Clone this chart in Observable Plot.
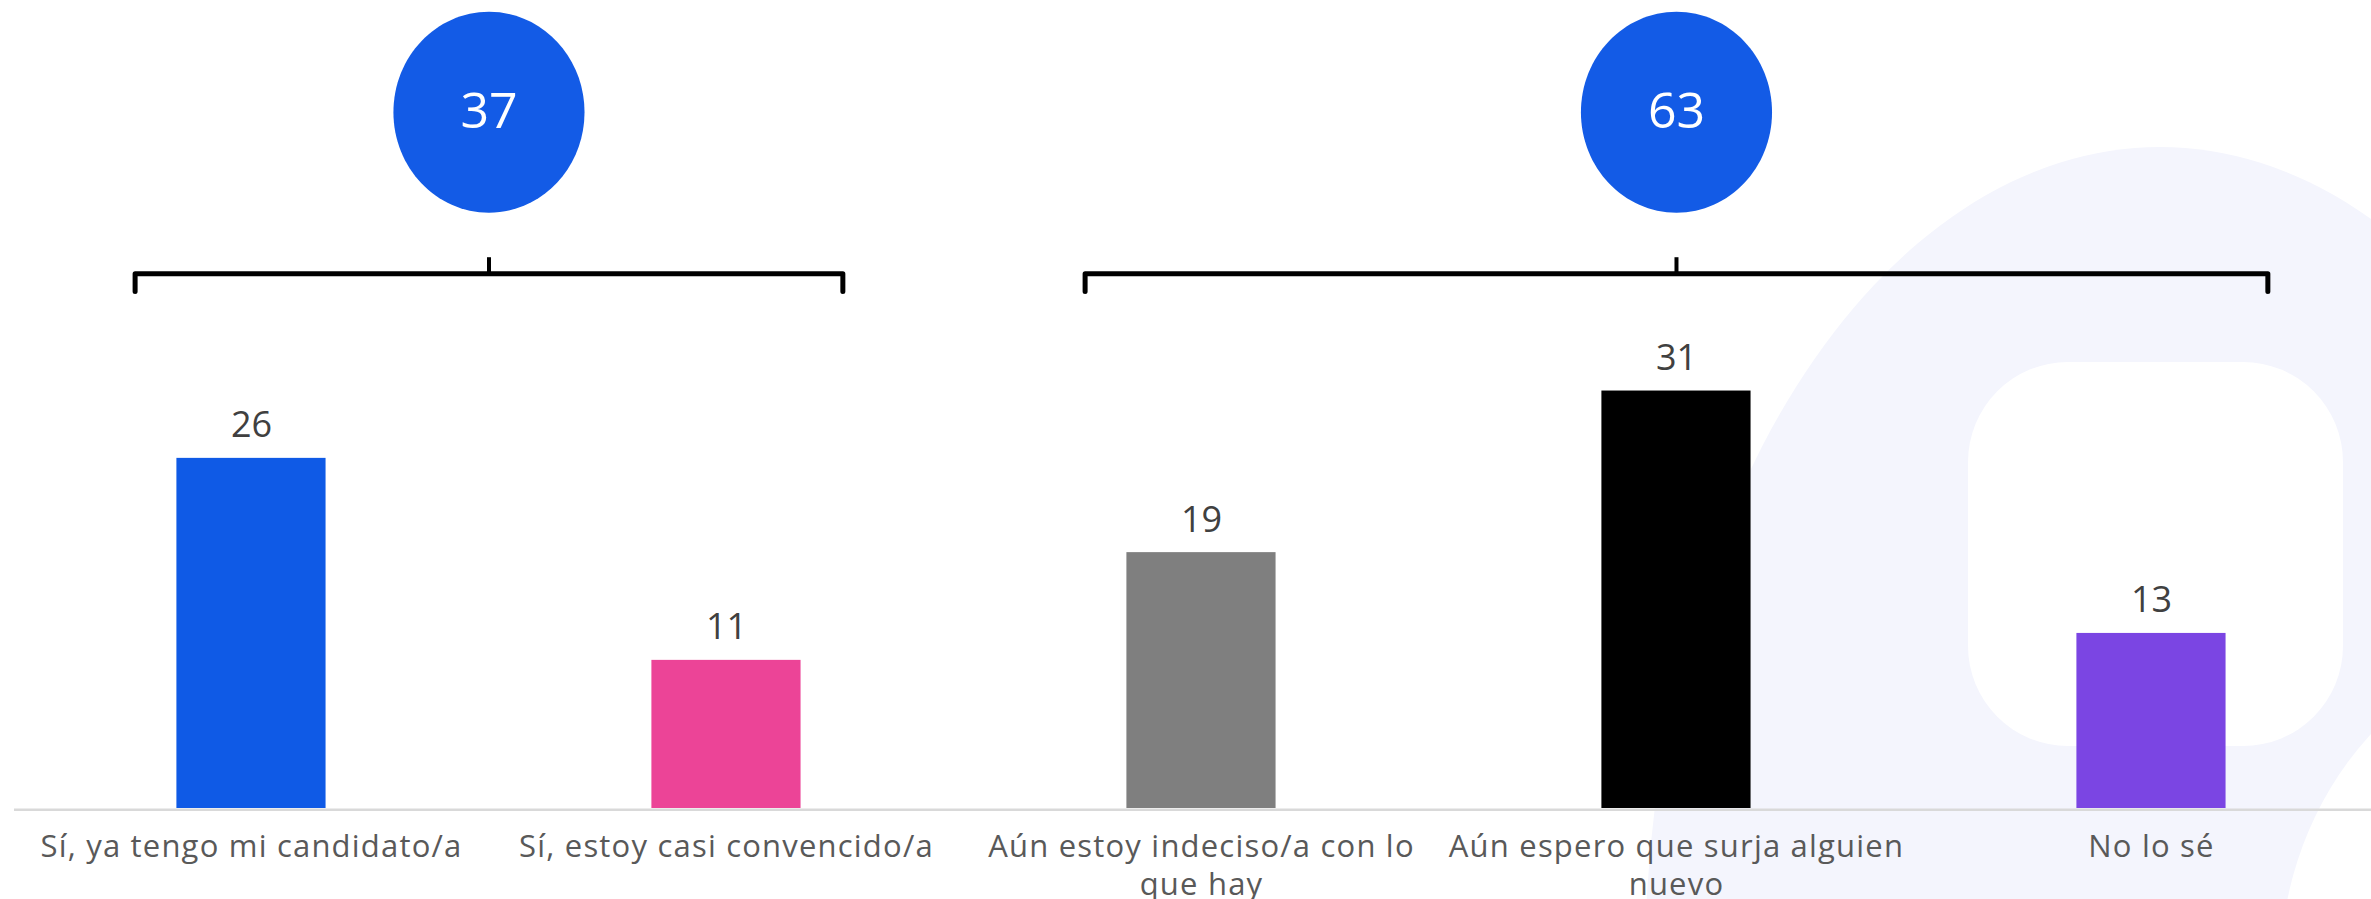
<!DOCTYPE html>
<html>
<head>
<meta charset="utf-8">
<script src="https://cdn.jsdelivr.net/npm/d3@7"></script>
<script src="https://cdn.jsdelivr.net/npm/@observablehq/plot@0.6"></script>
<style>
  html, body { margin: 0; padding: 0; background: #ffffff; }
  #wrap { position: relative; width: 2371px; height: 899px; overflow: hidden; }
  .bg { position: absolute; }
  #chart { position: absolute; left: 0; top: 0; }
  #chart g[font-size="31"] { letter-spacing: 1.2px; }
</style>
</head>
<body>
<div id="wrap">
  <!-- faint watermark decoration behind the chart -->
  <div class="bg" style="left:1645px;top:147px;width:1030px;height:1640px;border-radius:50%;background:#F4F5FD"></div>
  <div class="bg" style="left:1968px;top:362px;width:375px;height:384px;border-radius:100px;background:#ffffff"></div>
  <div class="bg" style="left:2280px;top:640px;width:600px;height:666px;border-radius:50%;background:#ffffff"></div>
  <div id="chart"></div>
</div>
<script>
// ---- data ----
const categories = [
  "Sí, ya tengo mi candidato/a",
  "Sí, estoy casi convencido/a",
  "Aún estoy indeciso/a con lo que hay",
  "Aún espero que surja alguien nuevo",
  "No lo sé"
];
const tickLabels = [
  "Sí, ya tengo mi candidato/a",
  "Sí, estoy casi convencido/a",
  "Aún estoy indeciso/a con lo\nque hay",
  "Aún espero que surja alguien\nnuevo",
  "No lo sé"
];
const values = [26, 11, 19, 31, 13];
const barColors = ["#0F5AE6", "#EC4497", "#7F7F7F", "#000000", "#7B45E3"];

const groupTotals = [37, 63];
const groupFirst = [0, 2];
const groupLast = [1, 4];

// ---- tables built from the arrays ----
const rows = categories.map((c, i) => ({i, category: c, value: values[i], color: barColors[i], label: tickLabels[i]}));
const groups = groupTotals.map((t, g) => ({g, total: t, first: groupFirst[g], last: groupLast[g], mid: (groupFirst[g] + groupLast[g]) / 2}));

// annotation layout (in scale units)
const halfBar = 0.157;
const bracketPad = 0.245;
const bracketLevel = 39.7;
const bracketDrop = 1.3;
const bracketRise = 1.2;
const circleLevel = 51.7;

const bracketPts = groups.flatMap(d => [
  {g: d.g, x: d.first - bracketPad, y: bracketLevel - bracketDrop},
  {g: d.g, x: d.first - bracketPad, y: bracketLevel},
  {g: d.g, x: d.last + bracketPad, y: bracketLevel},
  {g: d.g, x: d.last + bracketPad, y: bracketLevel - bracketDrop}
]);

// slightly tall ellipse symbol for the total badges
const ellipseSymbol = {
  draw(context, size) {
    const r = Math.sqrt(size / Math.PI);
    const rx = r * 0.975, ry = r * 1.025, k = 0.5523;
    context.moveTo(rx, 0);
    context.bezierCurveTo(rx, k * ry, k * rx, ry, 0, ry);
    context.bezierCurveTo(-k * rx, ry, -rx, k * ry, -rx, 0);
    context.bezierCurveTo(-rx, -k * ry, -k * rx, -ry, 0, -ry);
    context.bezierCurveTo(k * rx, -ry, rx, -k * ry, rx, 0);
    context.closePath();
  }
};

const chart = Plot.plot({
  width: 2371,
  height: 899,
  marginLeft: 14,
  marginRight: 0,
  marginTop: 0,
  marginBottom: 91,
  x: {domain: [-0.4989, 4.4632], axis: null},
  y: {domain: [0, 60], axis: null},
  color: {type: "identity"},
  style: {background: "transparent", fontFamily: "'Open Sans', sans-serif", overflow: "visible"},
  marks: [
    Plot.rectY(rows, {x1: d => d.i - halfBar, x2: d => d.i + halfBar, y1: 0, y2: "value", fill: "color"}),
    Plot.ruleY([0], {stroke: "#D9D9D9", strokeWidth: 2.5, dy: 1.3}),
    Plot.text(rows, {x: "i", y: "value", text: d => String(d.value), dy: -21, lineAnchor: "bottom", fontSize: 36, fill: "#404040"}),
    Plot.text(rows, {x: "i", y: 0, text: "label", lineAnchor: "top", dy: 21, fontSize: 31, lineHeight: 1.24, fill: "#595959"}),
    Plot.line(bracketPts, {x: "x", y: "y", z: "g", stroke: "#000000", strokeWidth: 5, strokeLinejoin: "round", curve: "linear"}),
    Plot.ruleX(groups, {x: "mid", y1: bracketLevel, y2: bracketLevel + bracketRise, stroke: "#000000", strokeWidth: 4}),
    Plot.dot(groups, {x: "mid", y: circleLevel, r: 98, symbol: ellipseSymbol, fill: "#135BE6", stroke: null}),
    Plot.text(groups, {x: "mid", y: circleLevel, text: d => String(d.total), fill: "#ffffff", fontSize: 50, lineAnchor: "middle"})
  ]
});
document.getElementById("chart").appendChild(chart);
</script>
</body>
</html>
